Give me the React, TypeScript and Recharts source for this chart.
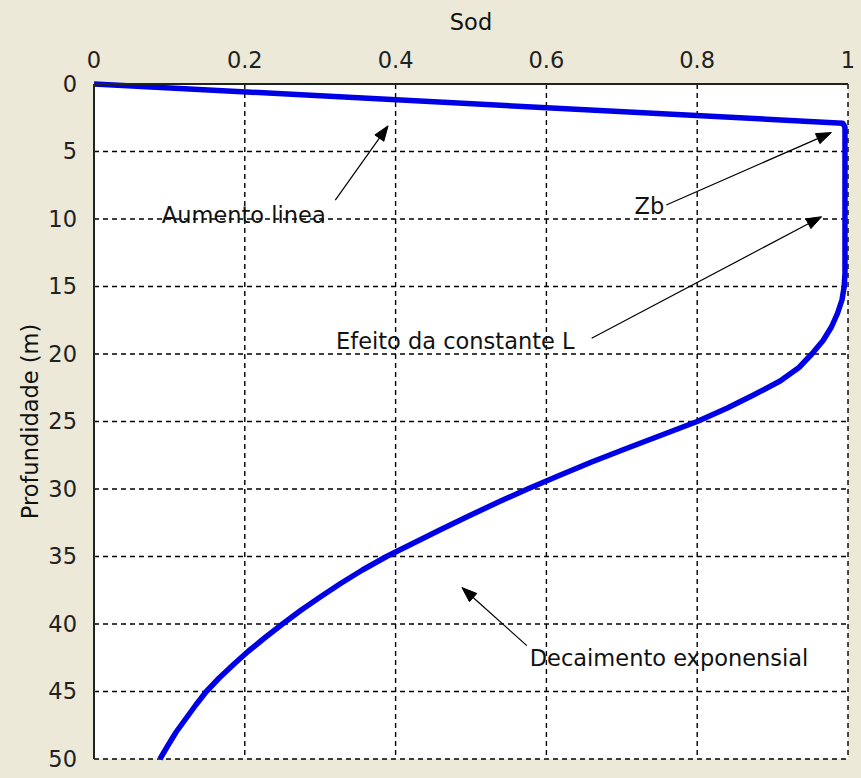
import React from 'react';
import { LineChart, Line, XAxis, YAxis, CartesianGrid, ReferenceLine, ReferenceDot } from 'recharts';

const sodValues = [0, 0.993, 0.996, 0.996, 0.995, 0.992, 0.986, 0.978, 0.967, 0.952, 0.935, 0.91, 0.876, 0.84, 0.8, 0.753, 0.706, 0.66, 0.617, 0.575, 0.535, 0.497, 0.46, 0.424, 0.388, 0.356, 0.327, 0.3, 0.274, 0.25, 0.227, 0.205, 0.185, 0.166, 0.149, 0.135, 0.122, 0.109, 0.098, 0.0875];
const depthValues = [0, 2.9, 3.2, 14, 15, 16, 17, 18, 19, 20, 21, 22, 23, 24, 25, 26, 27, 28, 29, 30, 31, 32, 33, 34, 35, 36, 37, 38, 39, 40, 41, 42, 43, 44, 45, 46, 47, 48, 49, 50];

const xTicks = [0, 0.2, 0.4, 0.6, 0.8, 1];
const yTicks = [0, 5, 10, 15, 20, 25, 30, 35, 40, 45, 50];

const annotationTexts = ['Aumento linea', 'Zb', 'Efeito da constante L', 'Decaimento exponensial'];
const textX = [0.09, 0.717, 0.321, 0.578];
const textY = [9.7, 9.0, 19.0, 42.5];
const tailX = [0.32, 0.759, 0.66, 0.574];
const tailY = [8.6, 8.96, 18.84, 41.6];
const tipX = [0.39, 0.978, 0.965, 0.488];
const tipY = [3.1, 3.6, 9.83, 37.3];

const data = sodValues.map((s, i) => ({ sod: s, depth: depthValues[i] }));

const FONT = '"DejaVu Sans", Verdana, sans-serif';
const FS = 22.5;

const ArrowShape = (props: any) => {
  const { x1, y1, x2, y2 } = props;
  const dx = x2 - x1;
  const dy = y2 - y1;
  const len = Math.sqrt(dx * dx + dy * dy) || 1;
  const ux = dx / len;
  const uy = dy / len;
  const hl = 15;
  const hw = 5.5;
  const bx = x2 - ux * hl;
  const by = y2 - uy * hl;
  const px = -uy;
  const py = ux;
  const pts = `${x2},${y2} ${bx + px * hw},${by + py * hw} ${bx - px * hw},${by - py * hw}`;
  return (
    <g>
      <line x1={x1} y1={y1} x2={bx} y2={by} stroke="#000" strokeWidth={1.2} />
      <polygon points={pts} fill="#000" stroke="#000" strokeWidth={1} />
    </g>
  );
};

const makeTextShape = (txt: string) => (props: any) => {
  const { cx, cy } = props;
  return (
    <text x={cx} y={cy} textAnchor="start" dominantBaseline="central" fontFamily={FONT} fontSize={FS} fill="#111">
      {txt}
    </text>
  );
};

const YLabel = (props: any) => {
  const vb = props.viewBox || {};
  const cx = 30;
  const cy = (vb.y || 0) + (vb.height || 0) / 2;
  return (
    <text x={cx} y={cy} transform={`rotate(-90 ${cx} ${cy})`} textAnchor="middle" dominantBaseline="central" fontFamily={FONT} fontSize={FS} fill="#111">
      Profundidade (m)
    </text>
  );
};

const XLabel = (props: any) => {
  const vb = props.viewBox || {};
  const cx = (vb.x || 0) + (vb.width || 0) / 2;
  return (
    <text x={cx} y={22} textAnchor="middle" dominantBaseline="central" fontFamily={FONT} fontSize={FS} fill="#111">
      Sod
    </text>
  );
};

export default function App() {
  return (
    <div style={{ position: 'absolute', left: 0, top: 0, width: 861, height: 778, background: '#ECE9D8' }}>
      <LineChart width={861} height={778} data={data} margin={{ top: 0, right: 13, bottom: 19, left: 0 }}>
        <CartesianGrid stroke="#000" strokeDasharray="5 4" strokeWidth={1.4} fill="#ffffff" fillOpacity={1} />
        <XAxis
          type="number"
          dataKey="sod"
          domain={[0, 1]}
          ticks={xTicks}
          interval={0}
          orientation="top"
          height={84}
          tickLine={false}
          tickMargin={10}
          axisLine={{ stroke: '#222', strokeWidth: 2 }}
          tick={{ fontFamily: FONT, fontSize: FS, fill: '#222' }}
          label={{ content: XLabel }}
        />
        <YAxis
          type="number"
          dataKey="depth"
          domain={[0, 50]}
          reversed
          ticks={yTicks}
          interval={0}
          width={94}
          tickLine={false}
          tickMargin={11}
          axisLine={{ stroke: '#222', strokeWidth: 2 }}
          tick={{ fontFamily: FONT, fontSize: FS, fill: '#222' }}
          label={{ content: YLabel }}
        />
        <Line
          type="linear"
          dataKey="depth"
          stroke="#0000E6"
          strokeWidth={5.5}
          dot={false}
          strokeLinejoin="round"
          isAnimationActive={false}
        />
        {annotationTexts.map((t, i) => (
          <ReferenceLine
            key={'a' + i}
            segment={[{ x: tailX[i], y: tailY[i] }, { x: tipX[i], y: tipY[i] }]}
            shape={ArrowShape}
            ifOverflow="visible"
          />
        ))}
        {annotationTexts.map((t, i) => (
          <ReferenceDot
            key={'t' + i}
            x={textX[i]}
            y={textY[i]}
            r={0}
            ifOverflow="visible"
            shape={makeTextShape(t)}
          />
        ))}
      </LineChart>
    </div>
  );
}
